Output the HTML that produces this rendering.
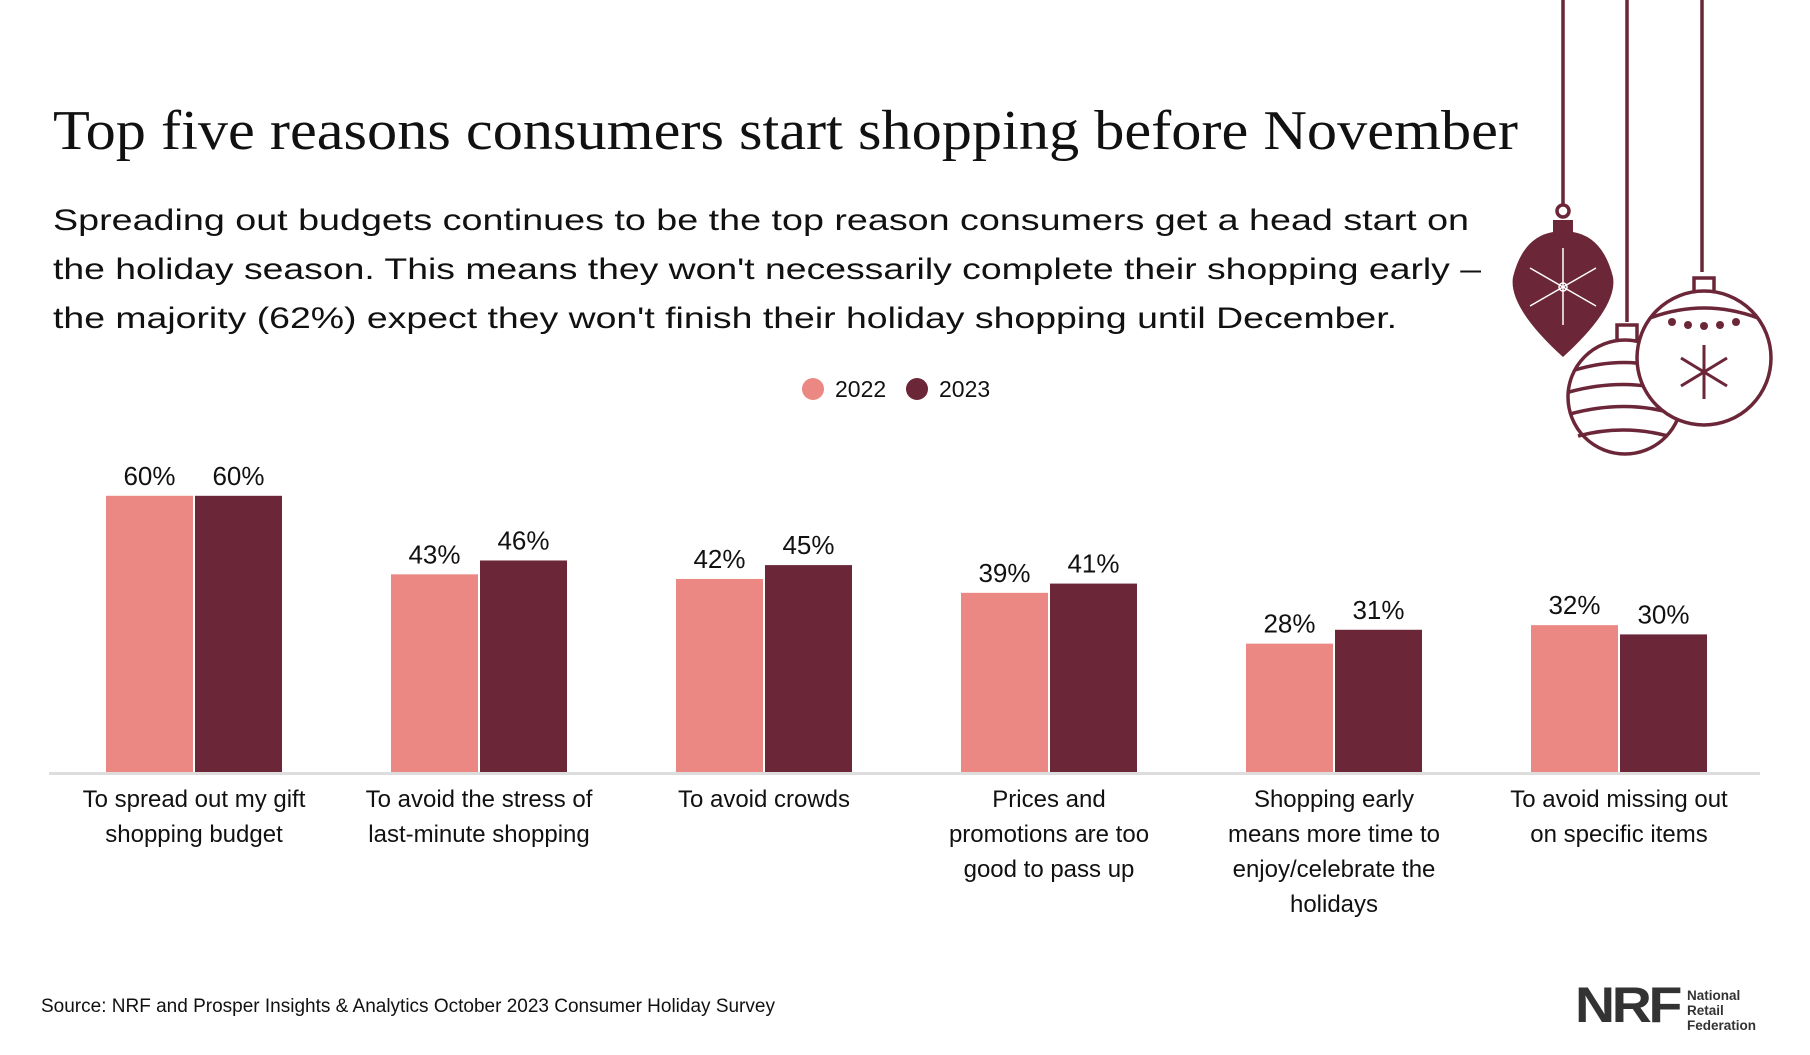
<!DOCTYPE html>
<html><head><meta charset="utf-8"><style>
html,body{margin:0;padding:0;background:#fff;}
svg{display:block;font-family:"Liberation Sans",sans-serif;}
</style></head><body>
<svg id="chart" width="1810" height="1055" viewBox="0 0 1810 1055">
<text x="53" y="149" font-family="Liberation Serif,serif" font-size="56" fill="#111" textLength="1465" lengthAdjust="spacingAndGlyphs">Top five reasons consumers start shopping before November</text>
<g font-size="30" fill="#111">
<text x="53" y="230" textLength="1416" lengthAdjust="spacingAndGlyphs">Spreading out budgets continues to be the top reason consumers get a head start on</text>
<text x="53" y="279" textLength="1428" lengthAdjust="spacingAndGlyphs">the holiday season. This means they won't necessarily complete their shopping early –</text>
<text x="53" y="328" textLength="1344" lengthAdjust="spacingAndGlyphs">the majority (62%) expect they won't finish their holiday shopping until December.</text>
</g>
<g>
<circle cx="813" cy="389" r="11" fill="#ec8883"/>
<text x="835" y="397" font-size="23" fill="#111">2022</text>
<circle cx="917" cy="389" r="11" fill="#6b2638"/>
<text x="939" y="397" font-size="23" fill="#111">2023</text>
</g>
<g id="bars"></g>
<rect x="49" y="772" width="1711" height="3" fill="#dddddd"/>
<g id="cats" font-size="24" fill="#111" text-anchor="middle"></g>
<text x="41" y="1012" font-size="19" fill="#111">Source: NRF and Prosper Insights &amp; Analytics October 2023 Consumer Holiday Survey</text>
<g>
<text x="1575" y="1022" font-size="50" font-weight="bold" fill="#333" textLength="104" lengthAdjust="spacingAndGlyphs" letter-spacing="-3">NRF</text>
<g font-size="13.5" font-weight="bold" fill="#333"><text x="1687" y="1000">National</text><text x="1687" y="1015">Retail</text><text x="1687" y="1030">Federation</text></g>
</g>
<g stroke="#6b2638" fill="none" stroke-width="3.5">
<line x1="1563" y1="0" x2="1563" y2="206"/>
<line x1="1627" y1="0" x2="1627" y2="322"/>
<line x1="1702" y1="0" x2="1702" y2="272"/>
<circle cx="1563" cy="211" r="6"/>
<path d="M1553 220 h20 v12 q30 5 40 45 q5 30 -50 80 q-55 -50 -50 -80 q10 -40 40 -45z" fill="#6b2638" stroke="none"/>
<g stroke="#fff" stroke-width="1.5"><line x1="1563" y1="248" x2="1563" y2="325"/><line x1="1530" y1="268" x2="1596" y2="306"/><line x1="1530" y1="306" x2="1596" y2="268"/><circle cx="1563" cy="287" r="4"/></g>
<rect x="1617" y="325" width="20" height="16" fill="#fff"/>
<circle cx="1625" cy="397" r="57" fill="#fff"/>
<path d="M1575 370 q50 -15 95 0 M1569 392 q55 -15 105 0 M1570 414 q55 -15 105 0 M1578 436 q45 -12 90 0"/>
<rect x="1694" y="278" width="20" height="16" fill="#fff"/>
<circle cx="1704" cy="358" r="67" fill="#fff"/>
<path d="M1650 318 q54 -20 108 0"/>
<g fill="#6b2638" stroke="none"><circle cx="1672" cy="322" r="4"/><circle cx="1688" cy="325" r="4"/><circle cx="1704" cy="326" r="4"/><circle cx="1720" cy="325" r="4"/><circle cx="1736" cy="322" r="4"/></g>
<g stroke-width="3"><line x1="1704" y1="345" x2="1704" y2="399"/><line x1="1681" y1="358" x2="1727" y2="386"/><line x1="1681" y1="386" x2="1727" y2="358"/></g>
</g>
</svg>
<script>
const categories=[["To spread out my gift","shopping budget"],["To avoid the stress of","last-minute shopping"],["To avoid crowds"],["Prices and","promotions are too","good to pass up"],["Shopping early","means more time to","enjoy/celebrate the","holidays"],["To avoid missing out","on specific items"]];
const values2022=[60,43,42,39,28,32];
const values2023=[60,46,45,41,31,30];
const NS="http://www.w3.org/2000/svg";
const baseY=773, pxPer=4.62, x0=194, step=285, bw=87;
function yScale(v){return baseY-v*pxPer;}
function xCenter(i){return x0+i*step;}
const gb=document.getElementById('bars'), gc=document.getElementById('cats');
function bar(x,v,col,name){
 const r=document.createElementNS(NS,'rect');
 r.setAttribute('x',x);r.setAttribute('y',yScale(v));r.setAttribute('width',bw);r.setAttribute('height',v*pxPer);r.setAttribute('fill',col);
 
 
 gb.appendChild(r);
 const t=document.createElementNS(NS,'text');
 t.setAttribute('x',x+bw/2);t.setAttribute('y',yScale(v)-11);t.setAttribute('text-anchor','middle');t.setAttribute('font-size','26');t.setAttribute('fill','#111');
 t.textContent=v+'%';
 
 
 gb.appendChild(t);
}
categories.forEach((c,i)=>{
 const cx=xCenter(i);
 bar(cx-bw-1,values2022[i],'#ec8883','bar-2022');
 bar(cx+1,values2023[i],'#6b2638','bar-2023');
 c.forEach((line,j)=>{
  const t=document.createElementNS(NS,'text');
  t.setAttribute('x',cx);t.setAttribute('y',807+j*35);
  t.textContent=line;
  
  
  gc.appendChild(t);
 });
});
</script>
</body></html>
